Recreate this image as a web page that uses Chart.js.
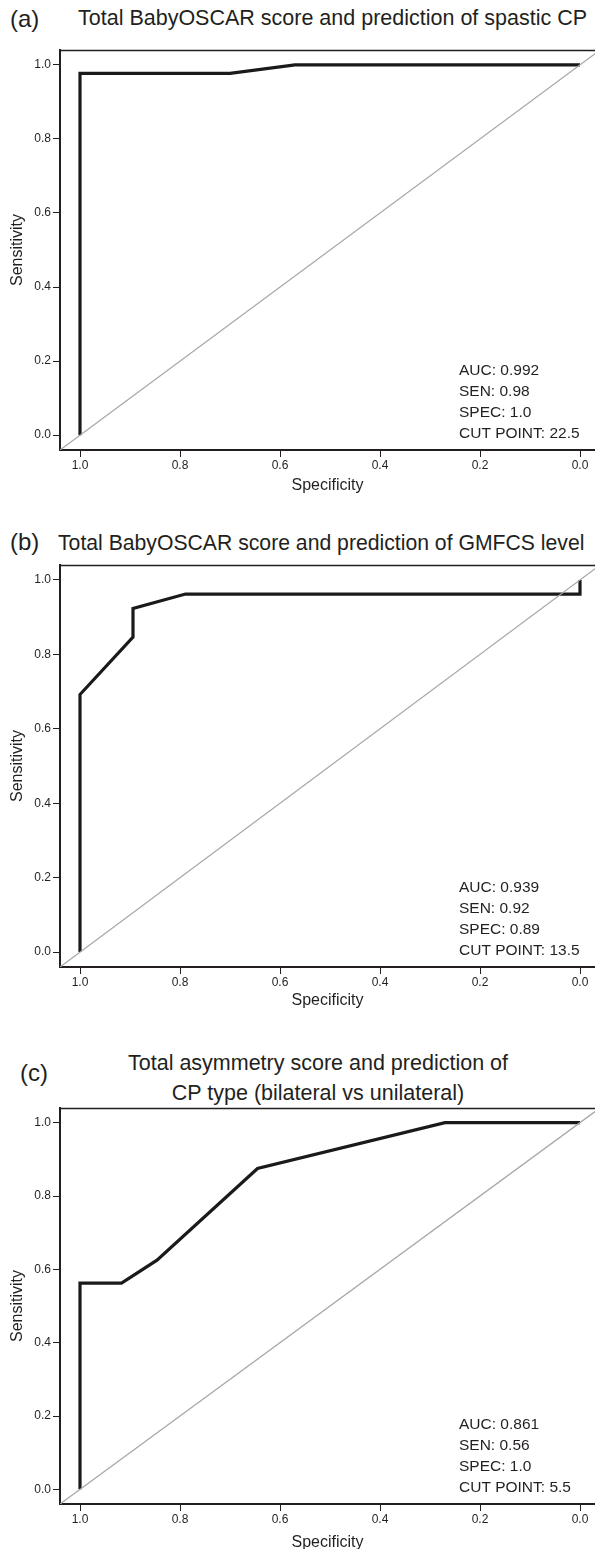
<!DOCTYPE html>
<html>
<head>
<meta charset="utf-8">
<script src="https://cdn.jsdelivr.net/npm/chart.js@4.4.0/dist/chart.umd.min.js"></script>
<style>
html, body { margin: 0; padding: 0; background: #fff; overflow: hidden; }
body { width: 595px; height: 1549px; position: relative; font-family: "Liberation Sans", Arial, sans-serif; color: #231f20; }
canvas { position: absolute; left: 0; }
.lbl { position: absolute; font-size: 24px; line-height: 1; white-space: nowrap; }
.ttl { position: absolute; font-size: 21.5px; line-height: 1; white-space: nowrap; }
</style>
</head>
<body>
<div class="lbl" style="left:10px;top:7px">(a)</div>
<div class="ttl" style="left:78px;top:8px">Total BabyOSCAR score and prediction of spastic CP</div>
<canvas id="chartA" width="595" height="470" style="top:40px"></canvas>

<div class="lbl" style="left:10px;top:530px">(b)</div>
<div class="ttl" style="left:58px;top:532px;font-size:21.2px">Total BabyOSCAR score and prediction of GMFCS level</div>
<canvas id="chartB" width="595" height="470" style="top:555px"></canvas>

<div class="lbl" style="left:20px;top:1061px">(c)</div>
<div class="ttl" style="left:0;width:636px;top:1048px;text-align:center;line-height:30px">Total asymmetry score and prediction of<br>CP type (bilateral vs unilateral)</div>
<canvas id="chartC" width="595" height="469" style="top:1098px"></canvas>

<script>
// ROC curve points
const specA = [1.0, 1.0, 0.70, 0.57, 0.0];
const sensA = [0.0, 0.977, 0.977, 1.0, 1.0];
const statsA = ['AUC: 0.992', 'SEN: 0.98', 'SPEC: 1.0', 'CUT POINT: 22.5'];

const specB = [1.0, 1.0, 0.894, 0.894, 0.789, 0.0, 0.0];
const sensB = [0.0, 0.692, 0.846, 0.923, 0.962, 0.962, 1.0];
const statsB = ['AUC: 0.939', 'SEN: 0.92', 'SPEC: 0.89', 'CUT POINT: 13.5'];

const specC = [1.0, 1.0, 0.917, 0.846, 0.645, 0.27, 0.0];
const sensC = [0.0, 0.5625, 0.5625, 0.625, 0.875, 1.0, 1.0];
const statsC = ['AUC: 0.861', 'SEN: 0.56', 'SPEC: 1.0', 'CUT POINT: 5.5'];

// chance line y = 1 - x, stretched past the axes and clipped
const chanceSpec = [1.06, -0.06];
const chanceSens = [-0.06, 1.06];

const tickValues = [0, 0.2, 0.4, 0.6, 0.8, 1.0];

const ink = '#231f20';
const font = '"Liberation Sans", Arial, sans-serif';

function toPoints(xs, ys) {
    return xs.map((x, i) => ({ x: x, y: ys[i] }));
}

const frameAndStats = {
    id: 'frameAndStats',
    afterDraw(chart) {
        const ctx = chart.ctx;
        const a = chart.chartArea;
        ctx.save();
        // top edge of the box
        ctx.strokeStyle = ink;
        ctx.lineWidth = 1.5;
        ctx.beginPath();
        ctx.moveTo(a.left, a.top + 0.5);
        ctx.lineTo(a.right, a.top + 0.5);
        ctx.stroke();
        // statistics block
        const lines = chart.options.plugins.frameAndStats.lines;
        ctx.fillStyle = ink;
        ctx.font = '15.5px ' + font;
        ctx.textBaseline = 'middle';
        ctx.textAlign = 'left';
        lines.forEach((t, i) => {
            ctx.fillText(t, a.right - 136, a.bottom - 79 + 21 * i);
        });
        ctx.restore();
    }
};

function makeChart(id, spec, sens, stats, plotHeight) {
    const canvas = document.getElementById(id);
    const axisHeight = canvas.height - 10 - plotHeight;
    new Chart(canvas, {
        type: 'line',
        data: {
            datasets: [{
                data: toPoints(chanceSpec, chanceSens),
                borderColor: '#a8a8a8',
                borderWidth: 1.3,
                pointRadius: 0
            }, {
                data: toPoints(spec, sens),
                borderColor: '#1a1a1a',
                borderWidth: 3.2,
                pointRadius: 0,
                tension: 0
            }]
        },
        options: {
            responsive: false,
            animation: false,
            layout: { padding: { top: 10, left: 0, right: 0, bottom: 0 } },
            plugins: {
                legend: { display: false },
                tooltip: { enabled: false },
                frameAndStats: { lines: stats }
            },
            scales: {
                x: {
                    type: 'linear',
                    reverse: true,
                    min: -0.03,
                    max: 1.04,
                    afterBuildTicks: s => { s.ticks = tickValues.map(v => ({ value: v })); },
                    afterFit: s => { s.height = axisHeight; },
                    ticks: {
                        color: ink,
                        font: { family: font, size: 12 },
                        padding: 1,
                        maxRotation: 0,
                        callback: v => v.toFixed(1)
                    },
                    grid: { drawOnChartArea: false, drawTicks: true, tickLength: 7, tickColor: ink, lineWidth: 1 },
                    border: { color: ink, width: 2 },
                    title: {
                        display: true,
                        text: 'Specificity',
                        color: ink,
                        font: { family: font, size: 16 },
                        padding: { top: 0, bottom: 15 }
                    }
                },
                y: {
                    type: 'linear',
                    min: -0.04,
                    max: 1.04,
                    afterBuildTicks: s => { s.ticks = tickValues.map(v => ({ value: v })); },
                    afterFit: s => { s.width = 60; },
                    ticks: {
                        color: ink,
                        font: { family: font, size: 12 },
                        padding: 2,
                        callback: v => v.toFixed(1)
                    },
                    grid: { drawOnChartArea: false, drawTicks: true, tickLength: 7, tickColor: ink, lineWidth: 1 },
                    border: { color: ink, width: 2 },
                    title: {
                        display: true,
                        text: 'Sensitivity',
                        color: ink,
                        font: { family: font, size: 16 },
                        padding: { top: 8, bottom: 0 }
                    }
                }
            }
        },
        plugins: [frameAndStats]
    });
}

makeChart('chartA', specA, sensA, statsA, 400);
makeChart('chartB', specB, sensB, statsB, 402);
makeChart('chartC', specC, sensC, statsC, 396);
</script>
</body>
</html>
